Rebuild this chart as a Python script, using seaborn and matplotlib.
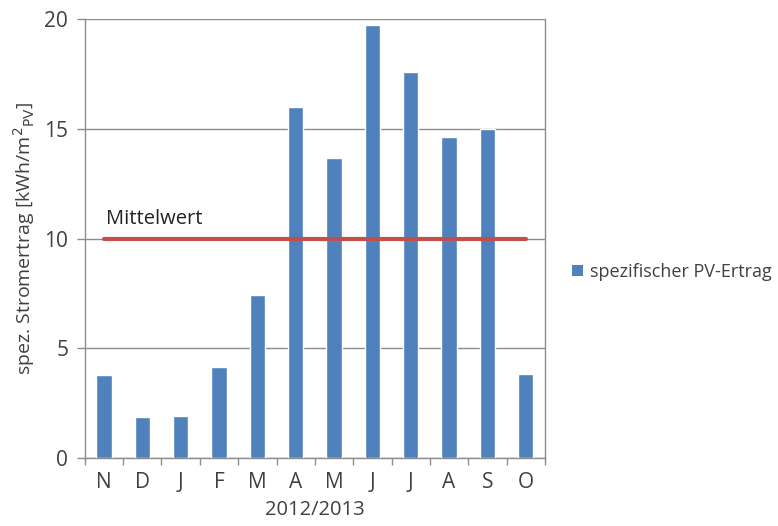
import numpy as np
import pandas as pd
import matplotlib
matplotlib.use("Agg")
import matplotlib.pyplot as plt
import seaborn as sns
from matplotlib.ticker import FixedLocator
from matplotlib.patches import Patch

months = ["N", "D", "J", "F", "M", "A", "M", "J", "J", "A", "S", "O"]
ertrag = [3.78, 1.87, 1.91, 4.15, 7.43, 15.99, 13.67, 19.73, 17.59, 14.62, 14.99, 3.83]
mittelwert = 10.0

BAR = "#4F81BD"
RED = "#C0504D"
GRID = "#8C8C8C"
TXT = "#404040"

sns.set_theme(style="white")
plt.rcParams["font.family"] = ["Open Sans", "DejaVu Sans"]

data = pd.DataFrame({"pos": [str(i) for i in range(len(months))], "ertrag": ertrag})

fig = plt.figure(figsize=(7.78, 5.26), dpi=100)
ax = fig.add_axes([0.109, 0.129, 0.5915, 0.835])

sns.barplot(data=data, x="pos", y="ertrag", color=BAR, width=0.4,
            saturation=1, ax=ax, zorder=3)

ax.plot([0, len(months) - 1], [mittelwert, mittelwert], color=RED,
        lw=3, solid_capstyle="round", zorder=4)
ax.text(0.05, mittelwert + 0.45, "Mittelwert", fontsize=14.5, color="#222222",
        ha="left", va="bottom", zorder=5)

ax.set_xlim(-0.5, len(months) - 0.5)
ax.set_ylim(0, 20)
ax.set_yticks([0, 5, 10, 15, 20])
ax.set_xticks(range(len(months)))
ax.set_xticklabels(months)
ax.xaxis.set_minor_locator(FixedLocator(np.arange(-0.5, len(months), 1.0)))
ax.tick_params(axis="x", which="major", length=0, pad=10, labelsize=15, labelcolor=TXT)
ax.tick_params(axis="x", which="minor", length=5, width=1, color=GRID, bottom=True)
ax.tick_params(axis="y", left=True, length=6, width=1, color=GRID, pad=6,
               labelsize=15, labelcolor=TXT)

ax.yaxis.grid(True, color=GRID, lw=1, zorder=0)
ax.set_axisbelow(True)
for side in ["left", "right", "bottom"]:
    ax.spines[side].set_color(GRID)
    ax.spines[side].set_linewidth(1)
ax.spines["top"].set_visible(False)

ax.set_xlabel("2012/2013", fontsize=14.5, color=TXT, labelpad=5)
ax.set_ylabel("spez. Stromertrag [kWh/m$^2$$_{\\mathrm{PV}}$]", fontsize=14,
              color=TXT, labelpad=5)

handle = Patch(facecolor=BAR, edgecolor="none")
fig.legend([handle], ["spezifischer PV-Ertrag"], loc="center left",
           bbox_to_anchor=(0.735, 0.483), frameon=False, fontsize=13,
           handlelength=0.6, handleheight=0.6, handletextpad=0.4,
           borderaxespad=0, borderpad=0, labelcolor=TXT)

fig.savefig("out.png", dpi=100)
